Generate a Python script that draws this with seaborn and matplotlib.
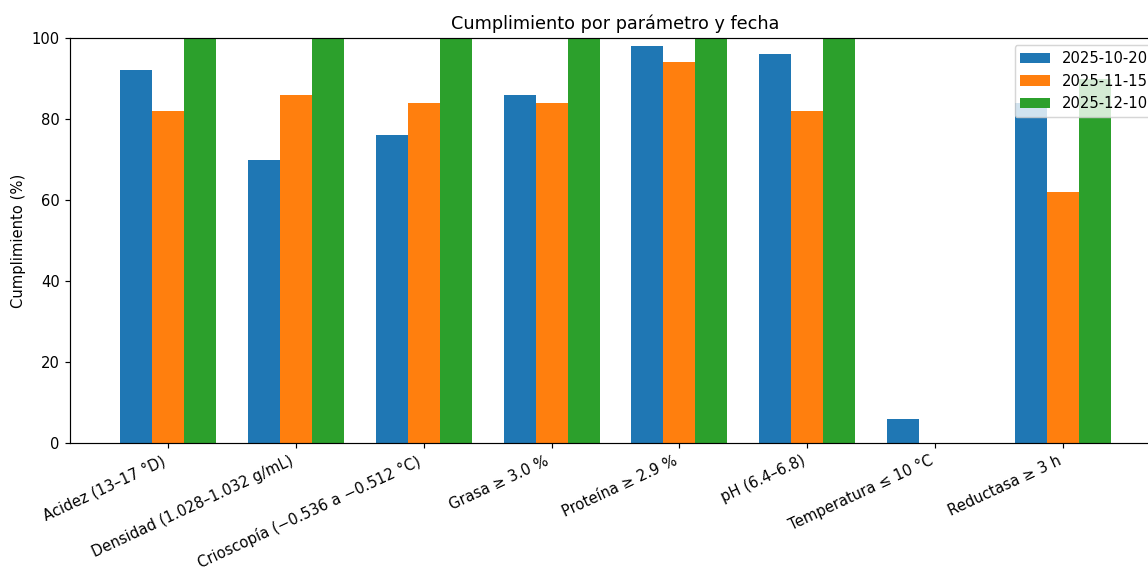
import matplotlib
matplotlib.use("Agg")
import matplotlib.pyplot as plt
import seaborn as sns
import pandas as pd

categories = [
    "Acidez (13–17 °D)",
    "Densidad (1.028–1.032 g/mL)",
    "Crioscopía (−0.536 a −0.512 °C)",
    "Grasa ≥ 3.0 %",
    "Proteína ≥ 2.9 %",
    "pH (6.4–6.8)",
    "Temperatura ≤ 10 °C",
    "Reductasa ≥ 3 h",
]
dates = ["2025-10-20", "2025-11-15", "2025-12-10"]
vals_1020 = [92, 70, 76, 86, 98, 96, 6, 84]
vals_1115 = [82, 86, 84, 84, 94, 82, 0, 62]
vals_1210 = [100, 100, 100, 100, 100, 100, 0, 90]

rows = []
for d, vals in zip(dates, [vals_1020, vals_1115, vals_1210]):
    for c, v in zip(categories, vals):
        rows.append({"Parámetro": c, "Fecha": d, "Cumplimiento": v})
df = pd.DataFrame(rows)

plt.rcParams['font.family'] = ['DejaVu Sans']
DPI = 106
fig = plt.figure(figsize=(1148 / DPI, 567 / DPI), dpi=DPI)
ax = fig.add_axes([70 / 1148, (567 - 443) / 567, (1161 - 70) / 1148, 405 / 567])

sns.barplot(data=df, x="Parámetro", y="Cumplimiento", hue="Fecha",
            order=categories, hue_order=dates,
            palette=["#1f77b4", "#ff7f0e", "#2ca02c"],
            saturation=1, width=0.75, errorbar=None, ax=ax, linewidth=0)

ax.set_xlim(-0.7625, 7.7625)
ax.set_ylim(0, 100)
ax.set_title("Cumplimiento por parámetro y fecha")
ax.set_ylabel("Cumplimiento (%)")
ax.set_xlabel("")
ax.set_xticks(range(len(categories)))
ax.set_xticklabels(categories, rotation=25, ha="right")
handles, labels = ax.get_legend_handles_labels()
ax.legend(handles, labels, loc="upper right", title=None)

fig.savefig("out.png", dpi=DPI)
